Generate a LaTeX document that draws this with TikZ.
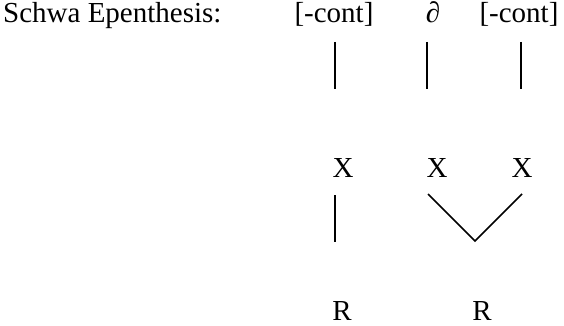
\documentclass[tikz,border=0pt]{standalone}
\usepackage{fontspec}
\setmainfont{Liberation Serif}
\usetikzlibrary{calc}

\begin{document}
\begin{tikzpicture}[
    x=1pt, y=-1pt,
    seg/.style={anchor=base, inner sep=0pt, font=\fontsize{29}{35}\selectfont},
    assoc/.style={line width=1.5pt, line join=miter}
]
\useasboundingbox (0,0) rectangle (564,326);

\node[seg, anchor=base west] (rule) at (3,23) {Schwa Epenthesis:};
\node[seg] (cont1) at (334,23) {[-cont]};
\node[seg] (schwa) at (433,23) {∂};
\node[seg] (cont2) at (519,23) {[-cont]};

\node[seg] (x1) at (343,177) {X};
\node[seg] (x2) at (437,177) {X};
\node[seg] (x3) at (522,177) {X};

\node[seg] (r1) at (342,320) {R};
\node[seg] (r2) at (482,320) {R};

% features to timing slots
\draw[assoc] ($(cont1.base)+(1,19)$) -- ++(0,47);
\draw[assoc] ($(schwa.base)+(-6,19)$) -- ++(0,47);
\draw[assoc] ($(cont2.base)+(2,19)$) -- ++(0,47);

% timing slots to roots
\draw[assoc] ($(x1.base)+(-8,18)$) -- ($(r1.base)+(-7,-78)$);
\draw[assoc] ($(x2.base)+(-9,17)$) -- ($(r2.base)+(-7,-79)$) -- ($(x3.base)+(0,17)$);
\end{tikzpicture}
\end{document}
